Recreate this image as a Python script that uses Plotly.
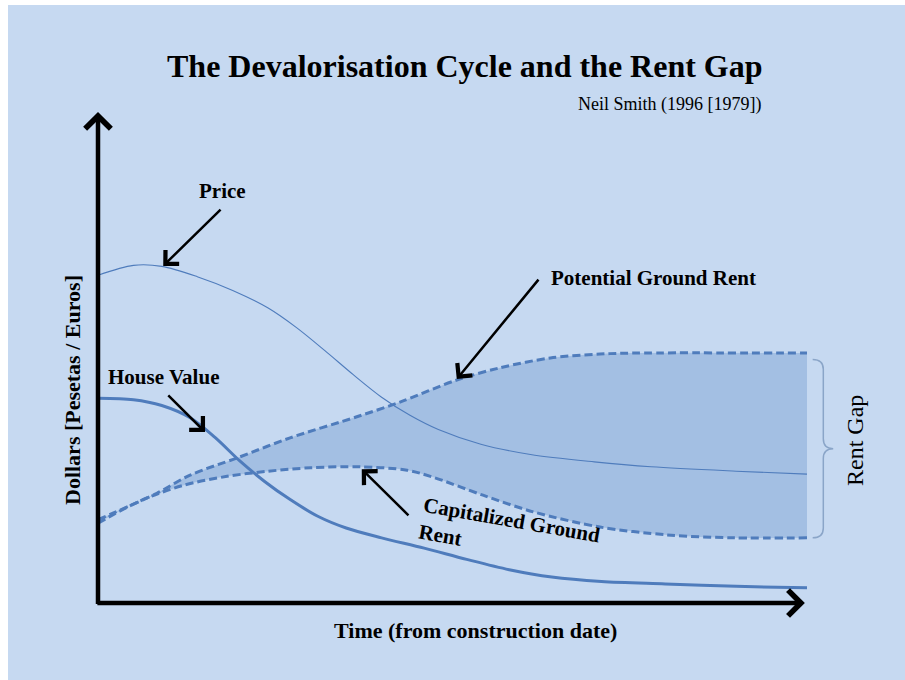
import plotly.graph_objects as go

# ---- data (time since construction, 0-100; value, 0-100) ----
price_t = [0, 5, 9, 14, 19, 24, 28, 32, 36, 40, 44, 48, 54, 61, 70, 78, 90, 100]
price_v = [66.9, 68.9, 68.7, 66.6, 63.8, 60.2, 56.2, 51.5, 46.6, 42.0, 38.3, 35.4, 32.4, 30.3, 28.8, 27.8, 26.9, 26.3]

pot_t = [0, 8.3, 13.0, 19.6, 27.1, 36.5, 42.6, 50.6, 56.7, 63.8, 70.8, 75.5, 100]
pot_v = [17.0, 22.4, 26.1, 29.6, 33.7, 38.0, 41.0, 45.5, 48.0, 50.0, 50.8, 51.0, 51.0]

cap_t = [0, 5.9, 12.0, 18.0, 24.0, 30.0, 37.0, 43.6, 47.2, 54.3, 61.4, 70.8, 80.3, 89.6, 100]
cap_v = [16.3, 20.8, 24.0, 25.8, 26.9, 27.6, 27.8, 27.1, 25.7, 22.0, 18.6, 15.5, 13.9, 13.3, 13.3]

house_t = [0, 5, 9, 13, 16.5, 20, 23.5, 27, 31, 35, 40, 46, 52, 58, 64, 71, 80, 90, 100]
house_v = [41.8, 41.5, 40.3, 37.8, 33.8, 29.0, 24.8, 21.2, 17.7, 15.3, 13.3, 11.2, 8.9, 6.8, 5.3, 4.4, 3.9, 3.4, 3.1]

title = "The Devalorisation Cycle and the Rent Gap"
subtitle = "Neil Smith (1996 [1979])"
x_label = "Time (from construction date)"
y_label = "Dollars [Pesetas / Euros]"

BG = "#c6d9f1"
FILL = "#a3bfe3"
LINE = "#4f7cbc"
FONT = "Liberation Serif"
SM = 0.9

# pixel geometry: data x 0..100 -> px 98..807, data y 0..100 -> px 603..113
PXX = 7.09
PXY = 4.9
ML, MT, MB = 90, 103, 77
X0 = -(98 - ML) / PXX
X1 = (905 - 98) / PXX
Y1 = (603 - MT) / PXY

def px(xp):
    return (xp - ML) / (905 - ML)

def py(yp):
    return (680 - MB - yp) / (680 - MB - MT)

fig = go.Figure()

# filled rent gap (between capitalized and potential ground rent)
fig.add_trace(go.Scatter(x=cap_t, y=cap_v, mode="lines", line=dict(width=0, shape="spline", smoothing=SM),
                         hoverinfo="skip", showlegend=False))
fig.add_trace(go.Scatter(x=pot_t, y=pot_v, mode="lines", line=dict(width=0, shape="spline", smoothing=SM),
                         fill="tonexty", fillcolor=FILL, hoverinfo="skip", showlegend=False))

# curves
fig.add_trace(go.Scatter(x=price_t, y=price_v, mode="lines", name="Price",
                         line=dict(color=LINE, width=1.1, shape="spline", smoothing=SM), showlegend=False))
fig.add_trace(go.Scatter(x=house_t, y=house_v, mode="lines", name="House Value",
                         line=dict(color=LINE, width=3, shape="spline", smoothing=SM), showlegend=False))
fig.add_trace(go.Scatter(x=cap_t, y=cap_v, mode="lines", name="Capitalized Ground Rent",
                         line=dict(color=LINE, width=3, dash="8px,4px", shape="spline", smoothing=SM),
                         showlegend=False))
fig.add_trace(go.Scatter(x=pot_t, y=pot_v, mode="lines", name="Potential Ground Rent",
                         line=dict(color=LINE, width=3, dash="8px,4px", shape="spline", smoothing=SM),
                         showlegend=False))

# brace for rent gap, built from the final values
top = pot_v[-1] - 1.3
bot = cap_v[-1]
mid = (top + bot) / 2
x0, x1, x2 = pot_t[-1] + 0.8, pot_t[-1] + 2.3, pot_t[-1] + 3.7
r = 2.0
brace = (f"M {x0},{top} Q {x1},{top} {x1},{top - r} L {x1},{mid + r} "
         f"Q {x1},{mid} {x2},{mid} Q {x1},{mid} {x1},{mid - r} "
         f"L {x1},{bot + r} Q {x1},{bot} {x0},{bot}")

shapes = [
    dict(type="rect", xref="paper", yref="paper", x0=px(8), x1=1.0,
         y0=py(700), y1=py(5), fillcolor=BG, line=dict(width=0), layer="below"),
    dict(type="path", xref="x", yref="y", path=brace, line=dict(color="#8aa5c8", width=1.5)),
]

annotations = []

def arrow(tip_x, tip_y, tail_x, tail_y, width, size):
    annotations.append(dict(x=tip_x, y=tip_y, ax=tail_x, ay=tail_y, xref="x", yref="y",
                            axref="x", ayref="y", text="", showarrow=True, arrowhead=4,
                            arrowwidth=width, arrowsize=size, arrowcolor="black", standoff=0))

def label(x, y, text, size=21, bold=True, angle=0, align="center"):
    t = f"<b>{text}</b>" if bold else text
    annotations.append(dict(x=x, y=y, xref="x", yref="y", text=t, showarrow=False,
                            textangle=angle, align=align,
                            font=dict(family=FONT, size=size, color="black")))

# axes as arrows
arrow(0, 100.2, 0, -0.5, 4.5, 1.1)
arrow(99.7, 0, -0.3, 0, 4.5, 1.1)

# pointer arrows
arrow(9.2, 68.8, 17.5, 80.6, 2.5, 1.5)     # Price
arrow(50.6, 45.7, 62.3, 66.3, 2.5, 1.5)    # Potential Ground Rent
arrow(15.1, 34.9, 9.7, 42.7, 2.5, 1.5)     # House Value
arrow(37.2, 27.3, 44.0, 17.6, 2.5, 1.5)    # Capitalized Ground Rent

label(17.5, 84.1, "Price")
label(78.4, 66.3, "Potential Ground Rent")
label(9.3, 46.1, "House Value")
label(58.1, 14.1, "Capitalized Ground<br>Rent", angle=10, align="left")
label(106.8, 33.1, "Rent Gap", size=24, bold=False, angle=-90)

# titles
annotations.append(dict(x=px(465), y=py(66), xref="paper", yref="paper",
                        text=f"<b>{title}</b>", showarrow=False, xanchor="center", yanchor="middle",
                        font=dict(family=FONT, size=32, color="black")))
annotations.append(dict(x=px(763), y=py(104), xref="paper", yref="paper",
                        text=subtitle, showarrow=False, xanchor="right", yanchor="middle",
                        font=dict(family=FONT, size=18, color="black")))
annotations.append(dict(x=px(475), y=py(630), xref="paper", yref="paper",
                        text=f"<b>{x_label}</b>", showarrow=False, xanchor="center", yanchor="middle",
                        font=dict(family=FONT, size=22, color="black")))
annotations.append(dict(x=px(72), y=py(390), xref="paper", yref="paper",
                        text=f"<b>{y_label}</b>", showarrow=False, xanchor="center", yanchor="middle",
                        textangle=-90, font=dict(family=FONT, size=22, color="black")))

fig.update_layout(
    width=905, height=680,
    margin=dict(l=ML, r=0, t=MT, b=MB),
    paper_bgcolor="white", plot_bgcolor="rgba(0,0,0,0)",
    xaxis=dict(range=[X0, X1], visible=False, fixedrange=True),
    yaxis=dict(range=[0, Y1], visible=False, fixedrange=True),
    shapes=shapes, annotations=annotations, showlegend=False,
)

fig.write_html("out.html", config={"displayModeBar": False},
               post_script="document.body.style.margin='0px';")
